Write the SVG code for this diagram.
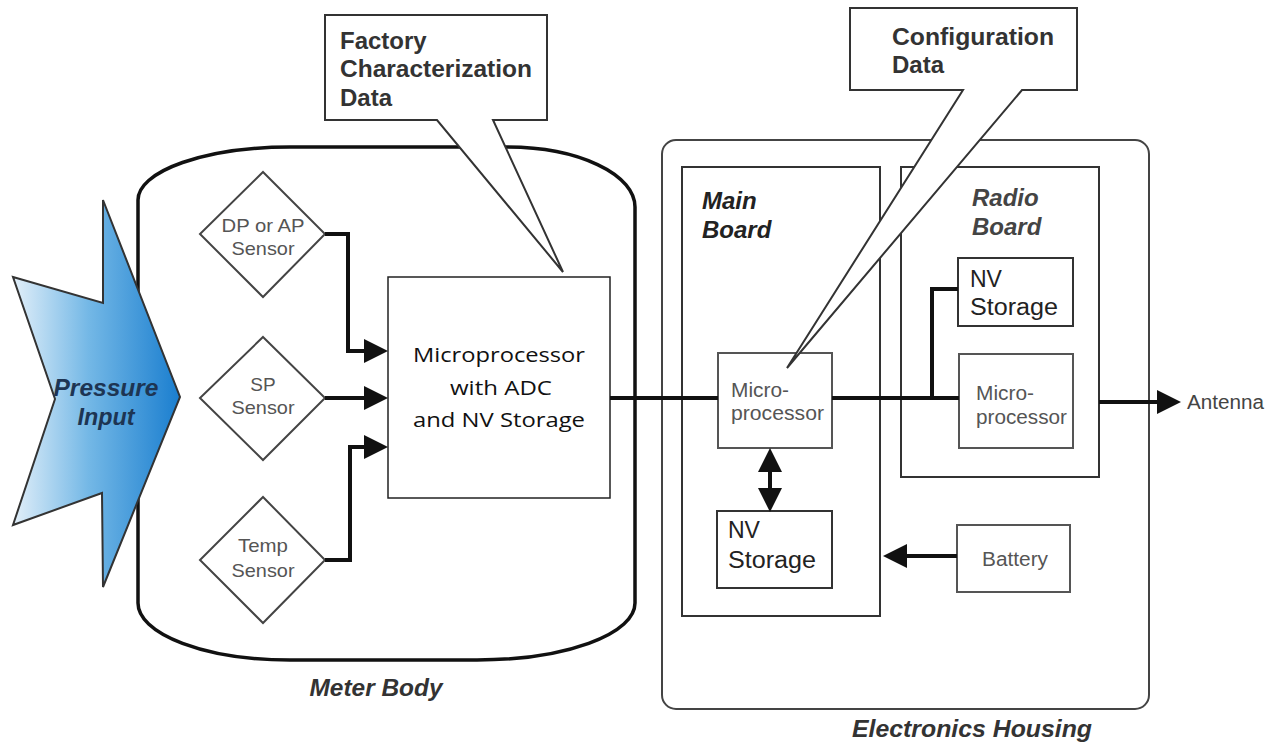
<svg xmlns="http://www.w3.org/2000/svg" width="1282" height="746" viewBox="0 0 1282 746">
<style>
.box{fill:#fff;stroke:#333;stroke-width:2}
.gbox{fill:#fff;stroke:#555;stroke-width:2}
.dia{fill:#fff;stroke:#444;stroke-width:2}
.wire{fill:none;stroke:#111;stroke-width:4}
.sans{font-family:"Liberation Sans",Arial,sans-serif}
.lbl{font-family:"Liberation Sans",Arial,sans-serif;font-weight:bold;font-style:italic}
.gray{fill:#555;font-size:19px}
.callout{fill:#fff;stroke:#333;stroke-width:2}
.ctext{font-family:"Liberation Sans",Arial,sans-serif;font-weight:bold;font-size:24px;fill:#333}
</style>
<defs>
<linearGradient id="blue" x1="0" y1="0" x2="1" y2="0">
<stop offset="0" stop-color="#e2eff9"/>
<stop offset="0.45" stop-color="#74b8e6"/>
<stop offset="1" stop-color="#1a7ecf"/>
</linearGradient>
<marker id="ah" viewBox="0 0 24 24" refX="18" refY="12" markerWidth="24" markerHeight="24" markerUnits="userSpaceOnUse" orient="auto-start-reverse">
<path d="M0,0 L24,12 L0,24 Z" fill="#111"/>
</marker>
</defs>

<g id="meter-body">
<path d="M138,603 L138,200 A152,53 0 0 1 290,147 L507,147 A128,60 0 0 1 635,207 L635,603 A158,57 0 0 1 477,660 L290,660 A152,57 0 0 1 138,603 Z" fill="#fff" stroke="#111" stroke-width="3.5"/>
<text class="lbl" x="376" y="696" font-size="23" fill="#333" text-anchor="middle" textLength="133" lengthAdjust="spacingAndGlyphs">Meter Body</text>
</g>

<g id="electronics-housing">
<rect x="662" y="140" width="487" height="569" rx="14" fill="#fff" stroke="#444" stroke-width="2"/>
<text class="lbl" x="972" y="737" font-size="24" fill="#333" text-anchor="middle" textLength="240" lengthAdjust="spacingAndGlyphs">Electronics Housing</text>
</g>

<g id="main-board">
<rect x="682" y="167" width="198" height="449" fill="#fff" stroke="#333" stroke-width="2"/>
<text class="lbl" x="702" y="209" font-size="24" fill="#222">Main</text>
<text class="lbl" x="702" y="238" font-size="24" fill="#222">Board</text>
</g>

<g id="radio-board">
<rect x="901" y="167" width="198" height="310" fill="#fff" stroke="#333" stroke-width="2"/>
<text class="lbl" x="972" y="206" font-size="24" fill="#444">Radio</text>
<text class="lbl" x="972" y="235" font-size="24" fill="#444">Board</text>
</g>

<g id="dp-sensor">
<polygon class="dia" points="263,172 325,234 263,297 200,234"/>
<text class="sans gray" x="263" y="232" text-anchor="middle" textLength="83" lengthAdjust="spacingAndGlyphs">DP or AP</text>
<text class="sans gray" x="263" y="255" text-anchor="middle" textLength="63" lengthAdjust="spacingAndGlyphs">Sensor</text>
</g>

<g id="sp-sensor">
<polygon class="dia" points="263,337 325,398 263,460 200,398"/>
<text class="sans gray" x="263" y="391" text-anchor="middle">SP</text>
<text class="sans gray" x="263" y="414" text-anchor="middle" textLength="63" lengthAdjust="spacingAndGlyphs">Sensor</text>
</g>

<g id="temp-sensor">
<polygon class="dia" points="263,497 325,560 263,623 200,560"/>
<text class="sans gray" x="263" y="552" text-anchor="middle" textLength="50" lengthAdjust="spacingAndGlyphs">Temp</text>
<text class="sans gray" x="263" y="577" text-anchor="middle" textLength="63" lengthAdjust="spacingAndGlyphs">Sensor</text>
</g>

<g id="mcu-adc">
<rect x="388" y="277" width="222" height="221" fill="#fff" stroke="#222" stroke-width="1.5"/>
<text font-family="'Open Sans','Noto Sans',sans-serif" font-size="20" fill="#111" x="499" y="362" text-anchor="middle" textLength="172" lengthAdjust="spacingAndGlyphs">Microprocessor</text>
<text font-family="'Open Sans','Noto Sans',sans-serif" font-size="20" fill="#111" x="501" y="395" text-anchor="middle" textLength="102" lengthAdjust="spacingAndGlyphs">with ADC</text>
<text font-family="'Open Sans','Noto Sans',sans-serif" font-size="20" fill="#111" x="499" y="427" text-anchor="middle" textLength="172" lengthAdjust="spacingAndGlyphs">and NV Storage</text>
</g>

<g id="main-mcu">
<rect class="gbox" x="718" y="353" width="114" height="95"/>
<text class="sans" x="731" y="397" font-size="20" fill="#555" textLength="58" lengthAdjust="spacingAndGlyphs">Micro-</text>
<text class="sans" x="731" y="420" font-size="20" fill="#555" textLength="93" lengthAdjust="spacingAndGlyphs">processor</text>
</g>

<g id="main-nv">
<rect class="box" x="717" y="511" width="115" height="77"/>
<text class="sans" x="728" y="538" font-size="23" fill="#222">NV</text>
<text class="sans" x="728" y="568" font-size="23" fill="#222" textLength="88" lengthAdjust="spacingAndGlyphs">Storage</text>
</g>

<g id="radio-nv">
<rect class="box" x="958" y="258" width="115" height="68"/>
<text class="sans" x="970" y="287" font-size="23" fill="#222">NV</text>
<text class="sans" x="970" y="315" font-size="23" fill="#222" textLength="88" lengthAdjust="spacingAndGlyphs">Storage</text>
</g>

<g id="radio-mcu">
<rect class="gbox" x="959" y="354" width="114" height="94"/>
<text class="sans" x="976" y="400" font-size="20" fill="#555" textLength="58" lengthAdjust="spacingAndGlyphs">Micro-</text>
<text class="sans" x="976" y="424" font-size="20" fill="#555" textLength="91" lengthAdjust="spacingAndGlyphs">processor</text>
</g>

<g id="battery">
<rect class="gbox" x="957" y="525" width="113" height="67"/>
<text class="sans" x="1015" y="566" font-size="20" fill="#555" text-anchor="middle" textLength="66" lengthAdjust="spacingAndGlyphs">Battery</text>
</g>

<g id="antenna">
<text class="sans" x="1187" y="409" font-size="20" fill="#444" textLength="77" lengthAdjust="spacingAndGlyphs">Antenna</text>
</g>

<g id="connectors">
<path class="wire" d="M325,234 H348 V351 H382" marker-end="url(#ah)"/>
<path class="wire" d="M325,398 H382" marker-end="url(#ah)"/>
<path class="wire" d="M325,560 H350 V447 H382" marker-end="url(#ah)"/>
<path class="wire" d="M610,398 H718"/>
<path class="wire" d="M832,398 H959"/>
<path class="wire" d="M932,398 V289 H958"/>
<path class="wire" d="M1099,402 H1175" marker-end="url(#ah)"/>
<path class="wire" d="M770,454 V506" marker-start="url(#ah)" marker-end="url(#ah)"/>
<path class="wire" d="M957,556 H889" marker-end="url(#ah)"/>
</g>

<g id="pressure-input">
<polygon points="13,277 103,303 103,200 180,397 103,587 102,493 13,525 55,399" fill="url(#blue)" stroke="#333" stroke-width="2" stroke-linejoin="miter"/>
<text class="lbl" x="106" y="396" font-size="23" fill="#1d3553" text-anchor="middle" textLength="105" lengthAdjust="spacingAndGlyphs">Pressure</text>
<text class="lbl" x="106" y="425" font-size="23" fill="#1d3553" text-anchor="middle" textLength="57" lengthAdjust="spacingAndGlyphs">Input</text>
</g>

<g id="factory-callout">
<path class="callout" d="M325,15 H547 V120 H493 L563,272 L437,120 H325 Z"/>
<text class="ctext" x="340" y="49">Factory</text>
<text class="ctext" x="340" y="77" textLength="192" lengthAdjust="spacingAndGlyphs">Characterization</text>
<text class="ctext" x="340" y="106">Data</text>
</g>

<g id="config-callout">
<path class="callout" d="M850,8 H1077 V90 H1022 L787,368 L963,90 H850 Z"/>
<text class="ctext" x="892" y="45" textLength="162" lengthAdjust="spacingAndGlyphs">Configuration</text>
<text class="ctext" x="892" y="73">Data</text>
</g>
</svg>
